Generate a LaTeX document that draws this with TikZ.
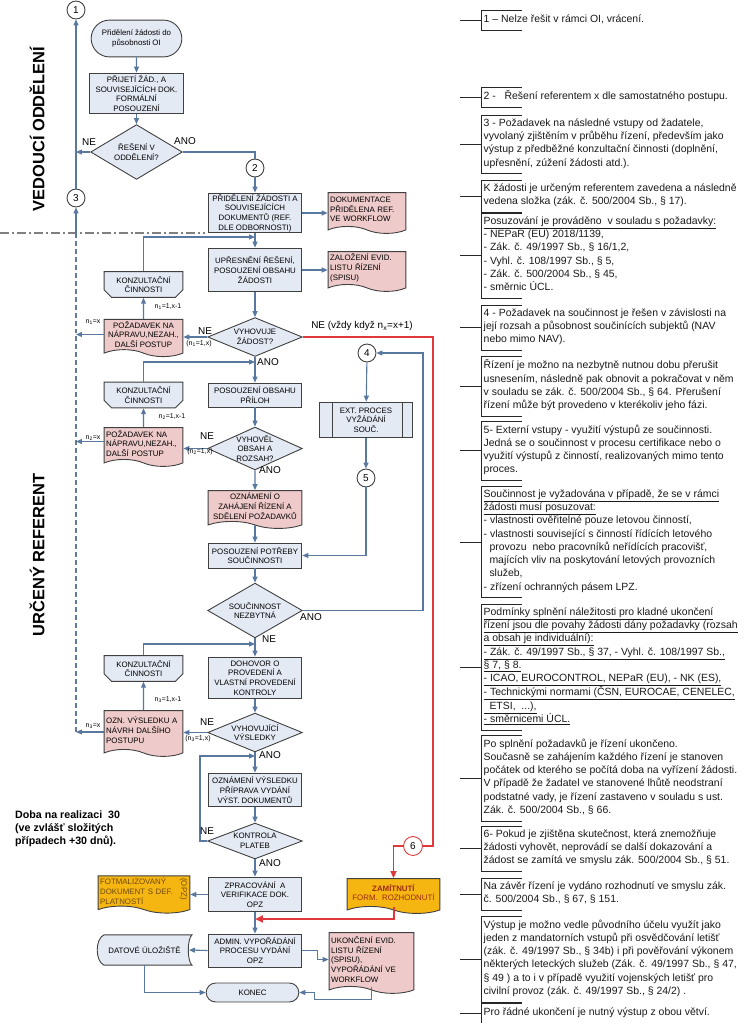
\documentclass[tikz,border=0pt]{standalone}
\usepackage{fontspec}
\setmainfont{Liberation Sans}
\usetikzlibrary{arrows.meta,positioning,calc,shapes.geometric,shapes.symbols,shapes.misc,backgrounds}

\definecolor{boxfill}{HTML}{E4EAF4}
\definecolor{docpink}{HTML}{EECACA}
\definecolor{docamber}{HTML}{F6B611}
\definecolor{linkblue}{HTML}{5878A0}
\definecolor{rejred}{HTML}{E0393B}
\definecolor{edgegray}{HTML}{404040}
\definecolor{zamtext}{HTML}{9C2A14}
\definecolor{opztext}{HTML}{6E4A10}

\newcommand\flowfont{\fontsize{7.9}{9.7}\selectfont}
\newcommand\annofont{\fontsize{10.5}{13.3}\selectfont}
\newcommand\yesnofont{\fontsize{10}{12}\selectfont}
\newcommand\countfont{\fontsize{7}{8}\selectfont}

\tikzset{
  proc/.style={rectangle,draw=edgegray,fill=boxfill,line width=0.9,minimum width=94,inner sep=1,align=center,font=\flowfont},
  decision/.style={diamond,draw=edgegray,fill=boxfill,line width=0.9,minimum width=95,minimum height=39,inner sep=0},
  dlabel/.style={align=center,font=\flowfont,inner sep=0},
  docu/.style={tape,tape bend top=none,tape bend bottom=out and in,tape bend height=7,draw=edgegray,line width=0.9,fill=docpink,align=left,font=\flowfont,inner sep=2},
  konz/.style={chamfered rectangle,chamfered rectangle corners={south west,south east},chamfered rectangle xsep=4,draw=edgegray,fill=boxfill,line width=0.9,minimum width=79,minimum height=25,inner sep=1,align=center,font=\flowfont},
  term/.style={rounded rectangle,draw=edgegray,fill=boxfill,line width=0.9,minimum width=93,minimum height=37,inner sep=1,align=center,font=\flowfont},
  conn/.style={circle,draw=edgegray,fill=white,line width=0.9,minimum size=18,inner sep=0,font=\yesnofont},
  link/.style={draw=linkblue,line width=1.1,-{Triangle[length=6,width=5]}},
  plainlink/.style={draw=linkblue,line width=1.1},
  busline/.style={draw=linkblue!70!gray,line width=1.1,dash pattern=on 5 off 3},
  rej/.style={draw=rejred,line width=1.2},
  rejarrow/.style={draw=rejred,line width=1.2,-{Triangle[length=7,width=6]}},
  rejthick/.style={draw=rejred,line width=2,-{Triangle[length=8,width=7]}},
  yn/.style={font=\yesnofont,inner sep=0},
  cnt/.style={font=\countfont,inner sep=0},
  lanelabel/.style={rotate=90,font=\fontsize{16.5}{18}\selectfont\bfseries,inner sep=0},
  lanesep/.style={draw=gray,line width=1.3,dash pattern=on 9 off 3 on 2 off 3},
  note/.style={anchor=north west,align=left,inner xsep=2.5,inner ysep=3.5,font=\annofont,text=black!90,execute at begin node=\strut,execute at end node=\strut},
  bracket/.style={draw=black!85,line width=0.8}
}

\begin{document}
\begin{tikzpicture}[x=1bp,y=-1bp]
  \useasboundingbox (0,0) rectangle (744,1023);

  % 区分
  \node[lanelabel] (laneVed) at (37,129) {VEDOUCÍ ODDĚLENÍ};
  \node[lanelabel] (laneRef) at (37,555) {URČENÝ REFERENT};
  \draw[lanesep] (0,233) -- (205,233); % 区分線

  % 本流
  \node[term] (start) at (136.5,38.5) {Přidělení žádosti do\\působnosti OI};
  \node[proc,minimum width=95,minimum height=41] (prijeti) at (136.5,93.5) {PŘIJETÍ ŽÁD., A\\SOUVISEJÍCÍCH DOK.\\FORMÁLNÍ\\POSOUZENÍ};
  \node[decision,minimum width=92,minimum height=55] (resOdd) at (136.5,152) {};
  \node[dlabel] (resOddT) at (resOdd) {ŘEŠENÍ V\\ODDĚLENÍ?};
  \node[conn] (c1) at (76,10) {1};
  \node[conn] (c2) at (255,168) {2};
  \node[conn] (c3) at (76,198) {3};
  \node[proc,minimum height=40] (prideleni) at (255,213) {PŘIDĚLENÍ ŽÁDOSTI A\\SOUVISEJÍCÍCH\\DOKUMENTŮ (REF.\\DLE ODBORNOSTI)};
  \node[docu,text width=74,minimum height=41] (dokRef) at (367,209.5) {DOKUMENTACE\\PŘIDĚLENA REF.\\VE WORKFLOW};
  \node[proc,minimum height=44] (upresneni) at (255,270) {UPŘESNĚNÍ ŘEŠENÍ,\\POSOUZENÍ OBSAHU\\ŽÁDOSTI};
  \node[docu,text width=74,minimum height=40] (zalozeni) at (367,268) {ZALOŽENÍ EVID.\\LISTU ŘÍZENÍ\\(SPISU)};
  \node[decision] (vyhZad) at (255,337) {};
  \node[dlabel] (vyhZadT) at (vyhZad) {VYHOVUJE\\ŽÁDOST?};
  \node[proc,minimum height=24] (prilohy) at (255,395) {POSOUZENÍ OBSAHU\\PŘÍLOH};
  \node[decision,minimum height=43] (vyhObs) at (255,448.5) {};
  \node[dlabel] (vyhObsT) at (vyhObs) {VYHOVĚL\\OBSAH A\\ROZSAH?};
  \node[docu,align=center,minimum width=94,minimum height=38] (oznZah) at (255,506) {OZNÁMENÍ O\\ZAHÁJENÍ ŘÍZENÍ A\\SDĚLENÍ POŽADAVKŮ};
  \node[proc,minimum height=25] (potreba) at (255,555.5) {POSOUZENÍ POTŘEBY\\SOUČINNOSTI};
  \node[decision,minimum height=55] (soucNez) at (255,610.5) {};
  \node[dlabel] (soucNezT) at (soucNez) {SOUČINNOST\\NEZBYTNÁ};
  \node[proc,minimum height=42] (dohovor) at (255,678) {DOHOVOR O\\PROVEDENÍ A\\VLASTNÍ PROVEDENÍ\\KONTROLY};
  \node[decision] (vyhVys) at (255,732.5) {};
  \node[dlabel] (vyhVysT) at (vyhVys) {VYHOVUJÍCÍ\\VÝSLEDKY};
  \node[proc,minimum height=34] (oznVys) at (255,790) {OZNÁMENÍ VÝSLEDKU\\PŘÍPRAVA VYDÁNÍ\\VÝST. DOKUMENTŮ};
  \node[decision,minimum height=36] (kontrola) at (255,841) {};
  \node[dlabel] (kontrolaT) at (kontrola) {KONTROLA\\PLATEB};
  \node[proc,minimum height=35] (zprac) at (255,894.5) {ZPRACOVÁNÍ\ \ A\\VERIFIKACE DOK.\\OPZ};
  \node[proc,minimum height=33] (admin) at (255,950.5) {ADMIN. VYPOŘÁDÁNÍ\\PROCESU VYDÁNÍ\\OPZ};
  \node[term,minimum width=95,minimum height=19] (konec) at (252.5,992.5) {KONEC};

  % 左側（協議・要求）
  \node[konz] (konz1) at (143.5,284.5) {KONZULTAČNÍ\\ČINNOSTI};
  \node[docu,align=center,minimum width=79,minimum height=35] (pozad1) at (143.5,334.5) {POŽADAVEK NA\\NÁPRAVU,NEZAH.,\\DALŠÍ POSTUP};
  \node[konz,minimum height=24] (konz2) at (143.5,395) {KONZULTAČNÍ\\ČINNOSTI};
  \node[docu,text width=75,minimum height=39] (pozad2) at (143.5,443.5) {POŽADAVEK NA\\NÁPRAVU,NEZAH.,\\DALŠÍ POSTUP};
  \node[konz,minimum height=23] (konz3) at (143.5,668.5) {KONZULTAČNÍ\\ČINNOSTI};
  \node[docu,text width=75,minimum height=46] (oznNav) at (143.5,730) {OZN. VÝSLEDKU A\\NÁVRH DALŠÍHO\\POSTUPU};
  \node[docu,fill=docamber,text=opztext,text width=88,minimum height=32] (formal) at (144,891) {FOTMALIZOVANÝ\\DOKUMENT S DEF.\\PLATNOSTÍ};
  \node[rotate=-90,font=\flowfont,text=opztext,inner sep=0] (opz) at ([xshift=-7,yshift=2]formal.east) {(OPZ)};
  \node[minimum width=95,minimum height=30,inner sep=0,font=\flowfont] (datUloz) at (144.5,950) {DATOVÉ ÚLOŽIŠTĚ};
  \begin{scope}[on background layer]
    \draw[draw=edgegray,fill=boxfill,line width=0.9]
      ([xshift=7]datUloz.north west) -- (datUloz.north east)
      .. controls ([xshift=-5,yshift=-4]datUloz.north east) and ([xshift=-5,yshift=4]datUloz.south east) .. (datUloz.south east)
      -- ([xshift=7]datUloz.south west)
      .. controls ([xshift=-2,yshift=4]datUloz.south west) and ([xshift=-2,yshift=-4]datUloz.north west) .. ([xshift=7]datUloz.north west); % データ記憶
  \end{scope}

  % 右側（共同・却下）
  \node[conn] (c4) at (367,353) {4};
  \node[proc,minimum height=36] (extProc) at (366,420) {EXT. PROCES\\VYŽÁDÁNÍ\\SOUČ.};
  \draw[draw=edgegray,line width=0.9] ([xshift=14]extProc.north west) -- ([xshift=14]extProc.south west);
  \draw[draw=edgegray,line width=0.9] ([xshift=-11]extProc.north east) -- ([xshift=-11]extProc.south east);
  \node[conn] (c5) at (366,478) {5};
  \node[conn,draw=rejred,minimum size=19] (c6) at (413,846) {6};
  \node[docu,fill=docamber,align=center,text=zamtext,minimum width=93,minimum height=35] (zamitnuti) at (393.5,892.5) {\textbf{ZAMÍTNUTÍ}\\FORM.\ \ ROZHODNUTÍ};
  \node[docu,text width=81,minimum height=61] (ukonceni) at (371.5,959.5) {UKONČENÍ EVID.\\LISTU ŘÍZENÍ\\(SPISU),\\VYPOŘÁDÁNÍ VE\\WORKFLOW};

  % 接続点
  \coordinate (busTop) at (76,236);
  \coordinate (busBot) at (76,732);
  \coordinate (j1) at (255,237);
  \coordinate (j2) at (255,362);
  \coordinate (j3) at (255,644);
  \coordinate (j4) at (255,756);
  \coordinate (kp) at (200,756);
  \coordinate (jr) at (255,919);
  \coordinate (lpTop) at (423,353);
  \coordinate (rj) at (433,846);

  % 矢印（本流）
  \draw[link] (start) -- (prijeti);
  \draw[link] (prijeti) -- (resOdd);
  \draw[link] (resOdd.west) -- (resOdd.west -| c1); % NE
  \draw[link] (c3) -- (c1);
  \draw[plainlink] (resOdd.east) -| (c2); % ANO
  \draw[link] (c2) -- (prideleni);
  \draw[link] (prideleni.east) -- (prideleni.east -| dokRef.west);
  \draw[link] (prideleni) -- (upresneni);
  \draw[link] (upresneni.east) -- (upresneni.east -| zalozeni.west);
  \draw[link] (upresneni) -- (vyhZad);
  \draw[link] (vyhZad) -- (prilohy);
  \draw[link] (prilohy) -- (vyhObs);
  \draw[link] (vyhObs) -- (oznZah);
  \draw[link] (oznZah) -- (potreba);
  \draw[link] (potreba) -- (soucNez);
  \draw[link] (soucNez) -- (dohovor);
  \draw[link] (dohovor) -- (vyhVys);
  \draw[link] (vyhVys) -- (oznVys);
  \draw[link] (oznVys) -- (kontrola);
  \draw[link] (kontrola) -- (zprac);
  \draw[link] (zprac) -- (admin);

  % 矢印（左側）
  \draw[link] (vyhZad.west) -- (vyhZad.west -| pozad1.east);
  \draw[link] (pozad1) -- (konz1);
  \draw[link] (konz1) |- (j1);
  \draw[link] (pozad1.west) -- (pozad1.west -| busTop);
  \draw[link] (vyhObs.west) -- (vyhObs.west -| pozad2.east);
  \draw[link] (pozad2) -- (konz2);
  \draw[link] (konz2) |- (j2);
  \draw[link] ([yshift=2]pozad2.west) -- ([yshift=2]pozad2.west -| busTop);
  \draw[link] (vyhVys.west) -- (vyhVys.west -| oznNav.east);
  \draw[link] (oznNav) -- (konz3);
  \draw[link] (konz3) |- (j3);
  \draw[link] ([yshift=-2]oznNav.west) -- ([yshift=-2]oznNav.west -| busBot);
  \draw[busline] (busBot) -- (busTop); % 差し戻しの集線
  \draw[link] (busTop) -- (c3);
  \draw[link] (kontrola.west) -| (kp) -- (j4); % NE
  \draw[link] (zprac.west) -- (zprac.west -| formal.east);
  \draw[link] (admin.west) -- ([xshift=-3]datUloz.east);
  \draw[link] (datUloz) |- (konec.west);

  % 矢印（右側）
  \draw[link] (c4) -- (extProc);
  \draw[link] (extProc) -- (c5);
  \draw[link] (c5) |- (potreba.east);
  \draw[link] (soucNez.east) -| (lpTop) -- (c4.east); % ANO
  \draw[link] (admin.east) -- ++(15,0) |- (ukonceni.west);
  \draw[link] (ukonceni.south) -- ++(0,13) -| ([xshift=15]konec.east) -- (konec.east);
  \draw[rej] (vyhZad.east) -| (rj) -- (c6.east); % 却下
  \draw[rejarrow] (c6.west) -| (zamitnuti.north);
  \draw[rejthick] (zamitnuti.south) |- (jr);

  % 分岐ラベル
  \node[yn] (ne0) at (89,142) {NE};
  \node[yn] (ano0) at (185,141) {ANO};
  \node[yn] (ne1) at (205,331) {NE};
  \node[cnt] (k1) at (199,344) {(n\textsubscript{1}=1,x)};
  \node[yn] (ano1) at (268,362) {ANO};
  \node[yn] (neAll) at (362,326) {NE (vždy když n\textsubscript{x}=x+1)};
  \node[yn] (ne2) at (207,436) {NE};
  \node[cnt] (k2) at (200,452) {(n\textsubscript{2}=1,x)};
  \node[yn] (ano2) at (270,470) {ANO};
  \node[yn] (ano3) at (311,617) {ANO};
  \node[yn] (ne3) at (269,639) {NE};
  \node[yn] (ne4) at (207,722) {NE};
  \node[cnt] (k4) at (198,739) {(n\textsubscript{3}=1,x)};
  \node[yn] (ano4) at (270,755) {ANO};
  \node[yn] (ne5) at (207,831) {NE};
  \node[yn] (ano5) at (270,863) {ANO};
  \node[cnt] (r1) at (168,307) {n\textsubscript{1}=1,x-1};
  \node[cnt] (r2) at (172,417) {n\textsubscript{2}=1,x-1};
  \node[cnt] (r3) at (168,700) {n\textsubscript{3}=1,x-1};
  \node[cnt] (x1) at (93,322) {n\textsubscript{1}=x};
  \node[cnt] (x2) at (93,438) {n\textsubscript{2}=x};
  \node[cnt] (x3) at (93,726) {n\textsubscript{3}=x};

  \node[anchor=north west,align=left,inner sep=0,font=\fontsize{10.7}{12.6}\selectfont\bfseries] (doba) at (15,811) {Doba na realizaci\ \ 30\\(ve zvlášť složitých\\případech +30 dnů).};

  % 注記
  \node[note] (note1) at (481,10) {1 – Nelze řešit v rámci OI, vrácení.};
  \node[note] (note2) at (481,87) {2 -\ \ \ Řešení referentem x dle samostatného postupu.};
  \node[note] (note3) at (481,115) {3 - Požadavek na následné vstupy od žadatele,\\vyvolaný zjištěním v průběhu řízení, především jako\\výstup z předběžné konzultační činnosti (doplnění,\\upřesnění, zúžení žádosti atd.).};
  \node[note] (note4) at (481,180) {K žádosti je určeným referentem zavedena a následně\\vedena složka (zák. č. 500/2004 Sb., § 17).};
  \node[note] (note5) at (481,213) {\underline{Posuzování je prováděno\ \ v souladu s požadavky:}\\- NEPaR (EU) 2018/1139,\\- Zák. č. 49/1997 Sb., § 16/1,2,\\- Vyhl. č. 108/1997 Sb., § 5,\\- Zák. č. 500/2004 Sb., § 45,\\- směrnic ÚCL.};
  \node[note] (note6) at (481,305) {4 - Požadavek na součinnost je řešen v závislosti na\\její rozsah a působnost součinících subjektů (NAV\\nebo mimo NAV).};
  \node[note] (note7) at (481,356) {Řízení je možno na nezbytně nutnou dobu přerušit\\usnesením, následně pak obnovit a pokračovat v něm\\v souladu se zák. č. 500/2004 Sb., § 64. Přerušení\\řízení může být provedeno v kterékoliv jeho fázi.};
  \node[note] (note8) at (481,421) {5- Externí vstupy - využití výstupů ze součinnosti.\\Jedná se o součinnost v procesu certifikace nebo o\\využití výstupů z činností, realizovaných mimo tento\\proces.};
  \node[note] (note9) at (481,486) {\underline{Součinnost je vyžadována v případě, že se v rámci}\\\underline{žádosti musí posuzovat:}\\- vlastnosti ověřitelné pouze letovou činností,\\- vlastnosti související s činností řídících letového\\\ \ provozu\ \ nebo pracovníků neřídících pracovišť,\\\ \ majících vliv na poskytování letových provozních\\\ \ služeb,\\- zřízení ochranných pásem LPZ.};
  \node[note] (note10) at (481,604) {\underline{Podmínky splnění náležitosti pro kladné ukončení}\\\underline{řízení jsou dle povahy žádosti dány požadavky (rozsah}\\\underline{a obsah je individuální):}\\\underline{- Zák. č. 49/1997 Sb., § 37, - Vyhl. č. 108/1997 Sb.,}\\\underline{§ 7, § 8.}\\\underline{- ICAO, EUROCONTROL, NEPaR (EU), - NK (ES),}\\\underline{- Technickými normami (ČSN, EUROCAE, CENELEC,}\\\underline{\ \ ETSI,\ \ ...),}\\\underline{- směrnicemi ÚCL.}};
  \node[note] (note11) at (481,735) {Po splnění požadavků je řízení ukončeno.\\Současně se zahájením každého řízení je stanoven\\počátek od kterého se počítá doba na vyřízení žádosti.\\V případě že žadatel ve stanovené lhůtě neodstraní\\podstatné vady, je řízení zastaveno v souladu s ust.\\Zák. č. 500/2004 Sb., § 66.};
  \node[note] (note12) at (481,826) {6- Pokud je zjištěna skutečnost, která znemožňuje\\žádosti vyhovět, neprovádí se další dokazování a\\žádost se zamítá ve smyslu zák. 500/2004 Sb., § 51.};
  \node[note] (note13) at (481,878) {Na závěr řízení je vydáno rozhodnutí ve smyslu zák.\\č. 500/2004 Sb., § 67, § 151.};
  \node[note] (note14) at (481,916) {Výstup je možno vedle původního účelu využít jako\\jeden z mandatorních vstupů při osvědčování letišť\\(zák. č. 49/1997 Sb., § 34b) i při pověřování výkonem\\některých leteckých služeb (Zák. č. 49/1997 Sb., § 47,\\§ 49 ) a to i v případě využití vojenských letišť pro\\civilní provoz (zák. č. 49/1997 Sb., § 24/2) .};
  \node[note] (note15) at (481,1003) {Pro řádné ukončení je nutný výstup z obou větví.};
  \foreach \k in {1,...,15} {
    \draw[bracket] ([xshift=41]note\k.north west) -- (note\k.north west) -- (note\k.south west) -- ([xshift=41]note\k.south west);
    \draw[bracket] (note\k.west) -- ++(-21,0);
  }
\end{tikzpicture}
\end{document}
